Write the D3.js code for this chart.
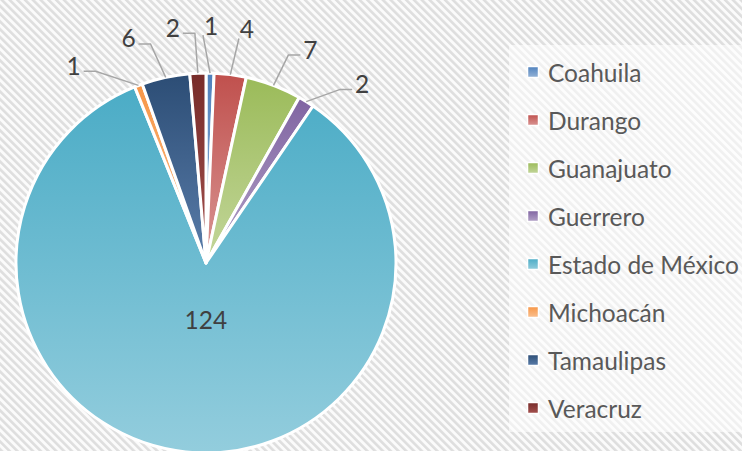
<!DOCTYPE html>
<html><head><meta charset="utf-8">
<script src="https://cdn.jsdelivr.net/npm/d3@7"></script>
<style>body{margin:0;background:#fff;} svg{display:block}</style>
</head><body>
<svg id="chart" width="742" height="451"></svg>
<script>
const categories = ["Coahuila","Durango","Guanajuato","Guerrero","Estado de México","Michoacán","Tamaulipas","Veracruz"];
const values = [1,4,7,2,124,1,6,2];
const colorsTop = ["#4F81BD","#C0504D","#9BBB59","#8064A2","#4BACC6","#F79646","#2C4D75","#772C2A"];
const colorsBottom = ["#95B3D7","#D99694","#C3D69B","#B3A2C7","#93CDDD","#FAC090","#5A7DAA","#A4514E"];
// label placement angles (degrees, layout only); null = inside label
const labelAngles = [1.2, 9.9, 26, 41, null, -33.8, -19, -8];

const W = 742, H = 451;
const cx = 206, cy = 263, R = 190, labelR = 238;
const svg = d3.select("#chart");
const defs = svg.append("defs");

const pat = defs.append("pattern").attr("id","hatch")
  .attr("patternUnits","userSpaceOnUse").attr("width",5.5).attr("height",5.5)
  .attr("patternTransform","rotate(-45)");
pat.append("rect").attr("width",5.5).attr("height",5.5).attr("fill","#fbfbfb");
pat.append("rect").attr("width",2.6).attr("height",5.5).attr("fill","#dedede");

svg.append("rect").attr("width",W).attr("height",H).attr("fill","url(#hatch)");
// legend backdrop
svg.append("rect").attr("x",509).attr("y",45).attr("width",W-509).attr("height",387)
  .attr("fill","#fff").attr("opacity",0.55);

categories.forEach((c,i)=>{
  const g = defs.append("linearGradient").attr("id","grad"+i)
    .attr("x1",0).attr("y1",0).attr("x2",0).attr("y2",1);
  g.append("stop").attr("offset","0%").attr("stop-color",colorsTop[i]);
  g.append("stop").attr("offset","100%").attr("stop-color",colorsBottom[i]);
});

const data = categories.map((c,i)=>({name:c, value:values[i], i}));
const pie = d3.pie().sort(null).value(d=>d.value);
const arcs = pie(data);
const arc = d3.arc().innerRadius(0).outerRadius(R);
const edgeArc = d3.arc().innerRadius(R).outerRadius(R);
const innerArc = d3.arc().innerRadius(0).outerRadius(114);

const gp = svg.append("g").attr("transform",`translate(${cx},${cy})`);
gp.selectAll("path.slice").data(arcs).join("path").attr("class","slice")
  .attr("d",arc).attr("fill",d=>`url(#grad${d.data.i})`)
  .attr("stroke","#fff").attr("stroke-width",3).attr("stroke-linejoin","round");

const font = "Lato, 'Open Sans', sans-serif";
const fs = 24.5;
arcs.forEach(d=>{
  const i = d.data.i;
  if (labelAngles[i] === null) {
    const [x,y] = innerArc.centroid(d);
    gp.append("text").attr("x",x+6).attr("y",y).attr("text-anchor","middle")
      .attr("dominant-baseline","central").attr("font-family",font).attr("font-size",fs)
      .attr("fill","#404040").text(d.data.value);
    return;
  }
  const a = labelAngles[i]*Math.PI/180;
  const T = [labelR*Math.sin(a), -labelR*Math.cos(a)];
  const P = edgeArc.centroid(d);
  let pts;
  if (Math.abs(T[0]-P[0]) < 20) {
    pts = [P, [T[0]-8, T[1]+10]];
  } else if (T[0] > P[0]) {
    const end = [T[0]-10, T[1]+6];
    pts = [P, [end[0]-12, end[1]], end];
  } else {
    const end = [T[0]+10, T[1]+6];
    pts = [P, [end[0]+12, end[1]], end];
  }
  gp.append("path").attr("d", d3.line()(pts)).attr("fill","none")
    .attr("stroke","#a6a6a6").attr("stroke-width",1.5);
  gp.append("text").attr("x",T[0]).attr("y",T[1]).attr("text-anchor","middle")
    .attr("dominant-baseline","central").attr("font-family",font).attr("font-size",fs)
    .attr("fill","#404040").text(d.data.value);
});

// legend
const legY = d3.scalePoint().domain(categories).range([72,408]);
const lg = svg.append("g");
categories.forEach((c,i)=>{
  const y = legY(c);
  lg.append("rect").attr("x",527.5).attr("y",y-5.5).attr("width",11).attr("height",11)
    .attr("fill",`url(#grad${i})`).attr("stroke","#fff").attr("stroke-width",1.5);
  lg.append("text").attr("x",548).attr("y",y).attr("dominant-baseline","central")
    .attr("font-family",font).attr("font-size",fs).attr("fill","#595959").text(c);
});
</script>
</body></html>
